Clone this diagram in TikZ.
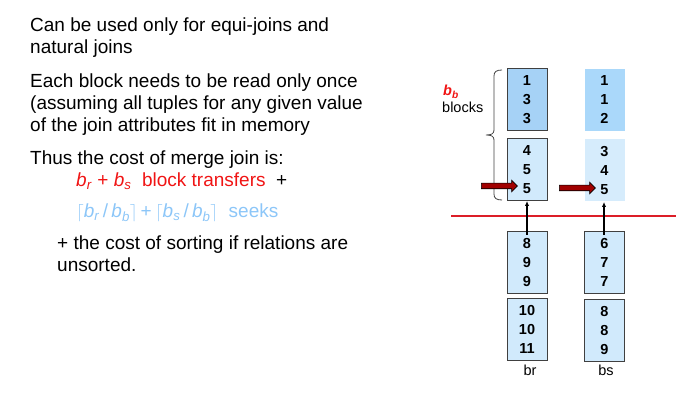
\documentclass[tikz,border=0pt]{standalone}
\usepackage{fontspec}
\setmainfont{Liberation Sans}
\usetikzlibrary{arrows.meta,shapes.arrows}

\definecolor{blkdark}{RGB}{166,210,246}
\definecolor{blklight}{RGB}{209,234,252}
\definecolor{bufdark}{RGB}{170,216,250}
\definecolor{buflight}{RGB}{214,236,252}
\definecolor{blkline}{RGB}{64,64,64}
\definecolor{costred}{RGB}{240,20,20}
\definecolor{seekblue}{RGB}{140,198,248}
\definecolor{ptrred}{RGB}{160,0,0}
\definecolor{divred}{RGB}{220,30,40}

\newcommand{\sbs}[2]{\textit{#1}\textsubscript{\textit{#2}}}

\tikzset{
  blk/.style={draw=blkline, line width=1pt, minimum width=40pt, minimum height=62pt,
    inner sep=0pt, align=center, font=\fontsize{14.5}{19}\selectfont\bfseries},
  buf/.style={blk, draw=none},
  body/.style={anchor=base west, inner sep=0pt, align=left, font=\fontsize{19}{22}\selectfont},
  small/.style={anchor=base, inner sep=0pt, font=\fontsize{14.5}{16}\selectfont},
  ptr/.style={single arrow, draw=black, line width=0.6pt, fill=ptrred, minimum height=36pt,
    minimum width=11pt, inner sep=2.5pt, single arrow head extend=3pt},
  feed/.style={-{Latex[length=5pt,width=4.5pt]}, line width=1.8pt}
}

\begin{document}
\begin{tikzpicture}[x=1pt,y=-1pt]
\useasboundingbox (0,0) rectangle (676,411);

% text on the left (base = last line)
\node[body] (p1) at (30,54) {Can be used only for equi-joins and\\natural joins};
\node[body] (p2) at (30,132) {Each block needs to be read only once\\(assuming all tuples for any given value\\of the join attributes fit in memory};
\node[body] (p3) at (30,165) {Thus the cost of merge join is:};
\node[body,text=costred] (xfer) at (76,187) {\sbs{b}{r} + \sbs{b}{s}\ \ block transfers \ \textcolor{black}{+}};
\node[body,text=seekblue] (seek) at (76,218) {$\big\lceil$\sbs{b}{r}\,/\,\sbs{b}{b}$\big\rceil$\,+\,$\big\lceil$\sbs{b}{s}\,/\,\sbs{b}{b}$\big\rceil$\ \ seeks};
\node[body] (p4) at (57,272) {+ the cost of sorting if relations are\\unsorted.};

% relation r on disk / in memory
\node[blk,fill=blkdark] (r1) at (527,100) {1\\3\\3};
\node[blk,fill=blklight] (r2) at (527,169.5) {4\\5\\5};
\node[blk,fill=blklight] (r3) at (527,262.5) {8\\9\\9};
\node[blk,fill=blklight] (r4) at (527,329.5) {10\\10\\11};
\node[small] (lr) at (530,375) {br};

% relation s
\node[buf,fill=bufdark] (s1) at (604.5,100) {1\\1\\2};
\node[buf,fill=buflight] (s2) at (604.5,170.5) {3\\4\\5};
\node[blk,fill=blklight] (s3) at (604.5,262.5) {6\\7\\7};
\node[blk,fill=blklight] (s4) at (604.5,330.5) {8\\8\\9};
\node[small] (ls) at (606,375) {bs};

% brace and its label
\draw[blkline,line width=0.8pt] (502,70) .. controls (496,70) and (494,72) .. (494,76) -- (494,130)
  .. controls (494,134) and (491,135) .. (486,135) .. controls (491,135) and (494,136) .. (494,140)
  -- (494,194) .. controls (494,198) and (496,200) .. (502,200);
\node[small,font=\fontsize{14.5}{16}\selectfont\bfseries\itshape,text=costred,anchor=base west] (bb) at (443,96) {b\textsubscript{b}};
\node[small,anchor=base west] (blocks) at (442,113) {blocks};

% divider between memory and disk
\draw[divred,line width=1.6pt] (451,216) -- (676,216);

% pointers
\node[ptr] (ptrR) at (498,186) {};
\node[ptr] (ptrS) at (576,188) {};

% next blocks read in
\draw[feed] ([yshift=-4pt]r3.north) -- (r2.south);
\draw[feed] ([xshift=-0.5pt,yshift=-4pt]s3.north) -- ([xshift=-0.5pt]s2.south);
\end{tikzpicture}
\end{document}
